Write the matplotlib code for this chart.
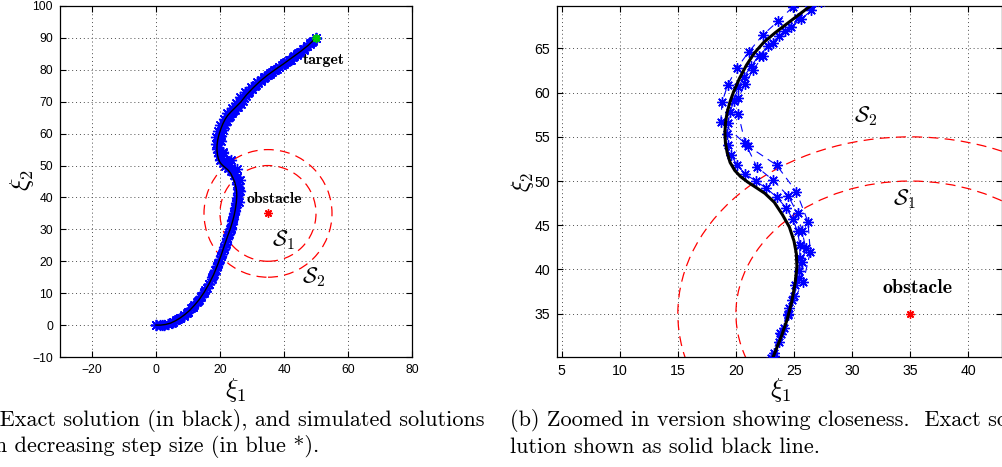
import numpy as np
import matplotlib
matplotlib.use("Agg")
import matplotlib.pyplot as plt
from matplotlib.patches import Circle

plt.rcParams["mathtext.fontset"] = "cm"
plt.rcParams["font.family"] = ["Liberation Sans", "DejaVu Sans"]

# exact solution (xi1, xi2)
exact_pts = [
    (0, 0), (1.5, 0.0), (3, 0.2), (4.5, 0.6), (6, 1.3), (7.5, 2.2), (9, 3.3), (10.5, 4.6),
    (12, 6.2), (13.5, 8.0), (15, 10.2), (16.5, 12.8), (18, 15.8), (19.3, 19.0), (20.5, 22.3),
    (21.6, 25.6), (22.5, 28.2), (23.2, 30.1), (23.9, 32.4), (24.4, 34.3), (24.8, 36.3),
    (25.1, 38.5), (25.25, 40.3), (25.2, 41.8), (25.0, 43.2), (24.6, 44.8), (24.0, 46.2),
    (23.3, 47.6), (22.5, 48.6), (21.7, 49.3), (21.0, 49.9), (20.4, 50.5), (19.9, 51.2),
    (19.5, 52.1), (19.25, 53.2), (19.1, 54.3), (19.05, 55.4), (19.1, 56.6), (19.25, 57.8),
    (19.5, 59.0), (19.8, 60.1), (20.3, 61.6), (20.9, 63.1), (21.6, 64.5), (22.4, 65.7),
    (23.4, 66.8), (24.5, 67.9), (25.5, 68.9), (26.4, 69.8), (28.3, 72.2), (30.5, 74.5),
    (32.6, 76.5), (34.8, 78.3), (37.3, 80.1), (39.9, 81.9), (42.5, 83.8), (45.1, 85.7),
    (47.6, 87.7), (50, 90),
]

# simulated solutions, largest step first
sim_coarse = [
    (0, 0), (2.5, 0.0), (5.0, 0.8), (7.4, 2.1), (9.6, 3.8), (11.6, 5.7), (13.4, 7.9),
    (15.0, 10.4), (16.5, 13.0), (17.9, 15.8), (19.1, 18.6), (20.2, 21.5), (21.2, 24.4),
    (22.1, 27.3), (23.0, 30.0), (23.8, 32.8), (24.6, 35.6), (25.8, 38.6), (26.4, 42.0),
    (26.2, 45.4), (25.2, 48.8), (23.5, 51.8), (21.0, 54.0), (18.7, 56.7), (18.8, 58.9),
    (19.3, 60.9), (20.1, 62.8), (21.1, 64.6), (22.3, 66.5), (23.6, 68.05), (24.9, 69.7),
    (26.3, 71.4), (27.9, 73.1), (29.7, 74.7), (31.6, 76.2), (33.6, 77.6), (35.7, 79.0),
    (37.8, 80.3), (40.0, 81.7), (42.1, 83.2), (44.2, 84.7), (46.2, 86.3), (48.1, 88.0),
    (50.0, 90.0),
]
sim_medium = [
    (0, 0), (1.8, 0.0), (3.6, 0.3), (5.3, 0.9), (7.0, 1.8), (8.6, 2.9), (10.1, 4.2),
    (11.5, 5.7), (12.9, 7.3), (14.2, 9.1), (15.4, 11.0), (16.5, 13.0), (17.5, 15.1),
    (18.5, 17.2), (19.4, 19.4), (20.3, 21.6), (21.1, 23.8), (21.9, 26.0), (22.6, 28.3),
    (23.3, 30.5), (23.9, 32.7), (24.5, 34.9), (25.0, 37.0), (25.4, 39.0), (25.7, 40.8),
    (26.0, 42.4), (25.7, 44.3), (25.3, 46.35), (24.5, 48.3), (23.2, 50.1), (21.8, 51.6),
    (20.8, 54.3), (20.2, 57.6), (20.2, 59.4), (20.8, 61.0), (21.5, 62.6), (22.3, 64.1),
    (23.2, 65.6), (24.2, 67.0), (25.3, 68.4), (26.4, 69.8), (27.5, 71.2), (28.7, 72.6),
    (30.0, 74.0), (31.3, 75.3), (32.7, 76.6), (34.1, 77.7), (35.5, 78.8), (37.0, 79.9),
    (38.5, 81.0), (40.0, 82.0), (41.5, 83.1), (43.0, 84.2), (44.5, 85.3), (45.9, 86.4),
    (47.3, 87.5), (48.7, 88.7), (50.0, 90.0),
]
sim_fine = [
    (0, 0), (1.3, 0.0), (2.6, 0.1), (3.9, 0.4), (5.2, 0.9), (6.4, 1.5), (7.6, 2.3),
    (8.8, 3.2), (9.9, 4.1), (11.0, 5.2), (12.0, 6.3), (13.0, 7.5), (14.0, 8.8), (14.9, 10.1),
    (15.8, 11.5), (16.6, 12.9), (17.4, 14.4), (18.1, 15.9), (18.8, 17.4), (19.5, 19.0),
    (20.1, 20.6), (20.7, 22.2), (21.3, 23.8), (21.8, 25.4), (22.3, 27.0), (22.8, 28.6),
    (23.3, 30.2), (23.7, 31.8), (24.1, 33.4), (24.5, 35.0), (24.8, 36.6), (25.1, 38.2),
    (25.4, 39.8), (25.5, 41.3), (25.5, 42.8), (25.3, 44.3), (24.9, 45.7), (24.3, 47.0),
    (23.5, 48.2), (22.6, 49.2), (21.7, 50.0), (20.8, 50.8), (20.1, 51.8), (19.6, 52.9),
    (19.3, 54.1), (19.2, 55.3), (19.3, 56.6), (19.5, 57.8), (19.8, 59.0), (20.2, 60.6),
    (20.7, 61.8), (21.3, 63.0), (22.0, 64.2), (22.8, 65.3), (23.7, 66.4), (24.7, 67.4),
    (25.6, 68.3), (26.5, 69.3), (27.3, 70.2), (28.2, 71.9), (29.1, 72.9), (30.0, 73.9),
    (31.0, 74.9), (31.9, 75.8), (32.9, 76.7), (33.9, 77.5), (35.0, 78.4), (36.1, 79.2),
    (37.2, 80.0), (38.3, 80.8), (39.5, 81.6), (40.6, 82.4), (41.8, 83.2), (42.9, 84.1),
    (44.0, 84.9), (45.1, 85.7), (46.1, 86.5), (47.1, 87.4), (48.1, 88.3), (49.1, 89.1),
    (50.0, 90.0),
]

obstacle = (35, 35)
target = (50, 90)
radius_s1 = 15
radius_s2 = 20

caption_a = ["(a) Exact solution (in black), and simulated solutions",
             "with decreasing step size (in blue *)."]
caption_b = ["(b) Zoomed in version showing closeness.  Exact so-",
             "lution shown as solid black line."]

ASTERISK = (8, 2, 0)


def draw_panel(ax, exact_lw, ms, tick_size):
    for sim in (sim_coarse, sim_medium, sim_fine):
        pts = np.array(sim)
        ax.plot(pts[:, 0], pts[:, 1], color="b", ls=(0, (7, 5)), lw=0.8,
                marker=ASTERISK, ms=ms, mew=1.0, mec="b", zorder=3)
    ex = np.array(exact_pts)
    ax.plot(ex[:, 0], ex[:, 1], color="k", lw=exact_lw, zorder=4)
    for r in (radius_s1, radius_s2):
        ax.add_patch(Circle(obstacle, r, fill=False, ec="r", ls=(0, (8, 5)), lw=0.9, zorder=2))
    ax.plot(*obstacle, marker=ASTERISK, color="r", ms=6, mew=1.0, zorder=5)
    ax.plot(*target, marker=ASTERISK, color="#00cc00", ms=6, mew=1.2, zorder=5)

    ax.grid(True, color="0.3", ls=(0, (1, 3)), lw=0.7)
    ax.tick_params(direction="in", top=True, right=True, length=4, width=0.8,
                   labelsize=tick_size, pad=5)
    for s in ax.spines.values():
        s.set_linewidth(0.9)


fig = plt.figure(figsize=(10.02, 4.67), dpi=100)
W, H = 1002, 467

# (a) full trajectory
ax1 = fig.add_axes([60 / W, 1 - 357 / H, 352 / W, 351 / H])
draw_panel(ax1, 1.0, 8, 8.7)
ax1.set_xlim(-30, 80)
ax1.set_ylim(-10, 100)
ax1.set_xticks(np.arange(-20, 81, 20))
ax1.set_yticks(np.arange(-10, 101, 10))
ax1.text(45.8, 83, "target", family="cmb10", fontsize=11.4, va="center")
ax1.text(28.3, 39.6, "obstacle", family="cmb10", fontsize=11.4, va="center")
ax1.text(36.2, 26.6, r"$\mathcal{S}_1$", fontsize=16, va="center")
ax1.text(45.6, 14.9, r"$\mathcal{S}_2$", fontsize=16, va="center")

# (b) zoomed in
ax2 = fig.add_axes([557 / W, 1 - 357 / H, 445 / W, 351 / H])
draw_panel(ax2, 2.2, 7.5, 10.2)
ax2.set_xlim(4.6, 42.9)
ax2.set_ylim(30.1, 69.8)
ax2.set_xticks(np.arange(5, 41, 5))
ax2.set_yticks(np.arange(35, 66, 5))
ax2.text(32.6, 37.9, "obstacle", family="cmb10", fontsize=14.4, va="center")
ax2.text(33.5, 48.0, r"$\mathcal{S}_1$", fontsize=16, va="center")
ax2.text(30.15, 57.4, r"$\mathcal{S}_2$", fontsize=16, va="center")

# axis labels
fig.text(236 / W, 1 - 390 / H, r"$\xi_1$", fontsize=19, ha="center", va="center")
fig.text(22 / W, 1 - 180 / H, r"$\xi_2$", fontsize=19, ha="center", va="center", rotation=90)
fig.text(781 / W, 1 - 390 / H, r"$\xi_1$", fontsize=19, ha="center", va="center")
fig.text(522 / W, 1 - 182 / H, r"$\xi_2$", fontsize=17, ha="center", va="center", rotation=90)

# captions
t1 = fig.text(484 / W, 1 - 421 / H, caption_a[0], family="cmr10", fontsize=16,
              ha="right", va="center")
fig.canvas.draw()
x_left = t1.get_window_extent().x0 / fig.bbox.width
fig.text(x_left, 1 - 447 / H, caption_a[1], family="cmr10", fontsize=16, va="center")
fig.text(510 / W, 1 - 421 / H, caption_b[0], family="cmr10", fontsize=16, va="center")
fig.text(510 / W, 1 - 447 / H, caption_b[1], family="cmr10", fontsize=16, va="center")

fig.savefig("out.png", dpi=100)
